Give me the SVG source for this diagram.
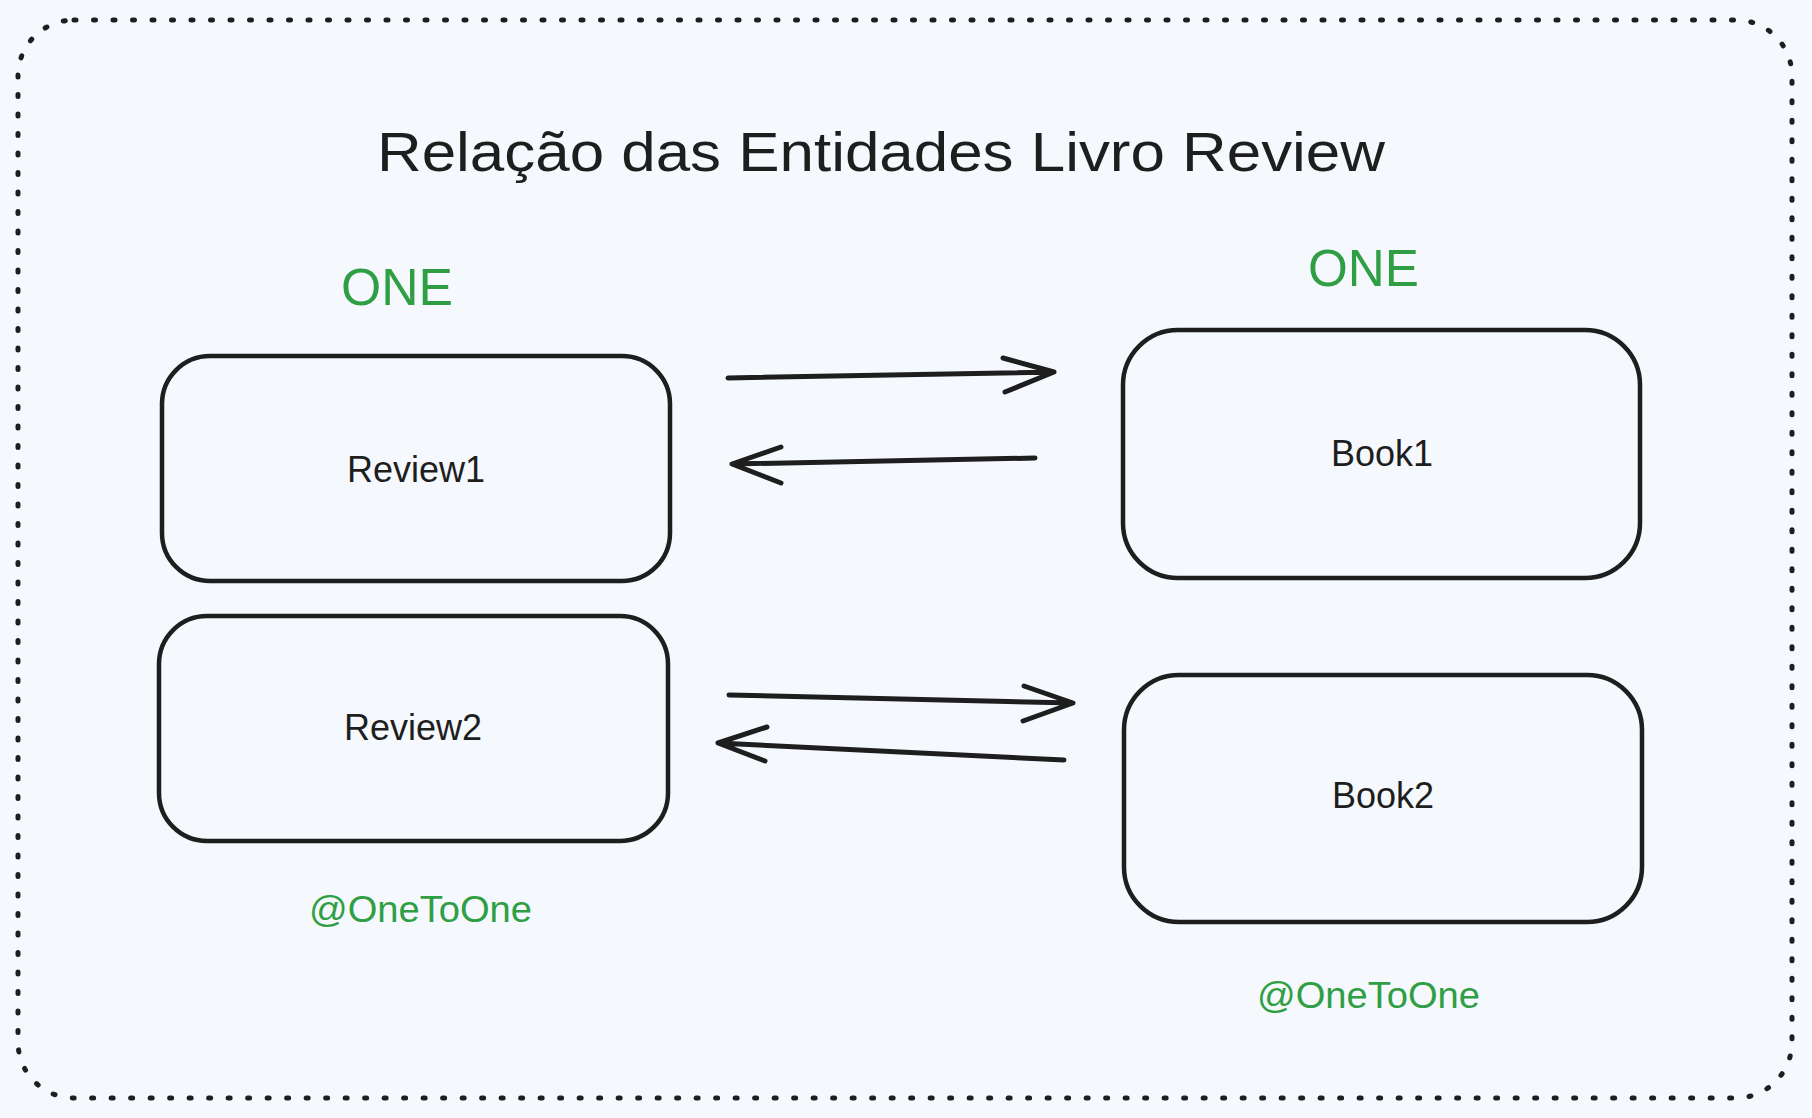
<svg xmlns="http://www.w3.org/2000/svg" width="1812" height="1118" viewBox="0 0 1812 1118">
  <style>
    .bg { fill: #f5f9fd; }
    .frame { fill: none; stroke: #1e1e1e; stroke-width: 5; stroke-linecap: round; stroke-dasharray: 2 17.5; }
    .box { fill: none; stroke: #1e1e1e; stroke-width: 4.5; }
    .conn { fill: none; stroke: #1e1e1e; stroke-width: 5; stroke-linecap: round; stroke-linejoin: round; }
    .t { font-family: "Liberation Sans", Arial, sans-serif; fill: #1e1e1e; }
    .g { font-family: "Liberation Sans", Arial, sans-serif; fill: #2f9e44; }
  </style>
  <rect class="bg" x="0" y="0" width="1812" height="1118"/>
  <rect class="frame" x="18" y="20" width="1774" height="1078" rx="56" ry="56"/>

  <text id="title" class="t" x="377" y="171" font-size="56" textLength="1008" lengthAdjust="spacingAndGlyphs">Relação das Entidades Livro Review</text>

  <text id="one-left" class="g" x="341" y="305" font-size="51" textLength="112" lengthAdjust="spacingAndGlyphs">ONE</text>
  <text id="one-right" class="g" x="1308" y="286" font-size="51" textLength="111" lengthAdjust="spacingAndGlyphs">ONE</text>

  <g id="review1">
    <rect class="box" x="162" y="356" width="508" height="225" rx="48" ry="48"/>
    <text class="t" x="416" y="482" font-size="36" text-anchor="middle">Review1</text>
  </g>
  <g id="review2">
    <rect class="box" x="159" y="616" width="509" height="225" rx="48" ry="48"/>
    <text class="t" x="413" y="740" font-size="36" text-anchor="middle">Review2</text>
  </g>
  <g id="book1">
    <rect class="box" x="1123" y="330" width="517" height="248" rx="55" ry="55"/>
    <text class="t" x="1382" y="466" font-size="36" text-anchor="middle">Book1</text>
  </g>
  <g id="book2">
    <rect class="box" x="1124" y="675" width="518" height="247" rx="55" ry="55"/>
    <text class="t" x="1383" y="808" font-size="36" text-anchor="middle">Book2</text>
  </g>

  <text id="onetoone-left" class="g" x="309" y="922" font-size="37" textLength="223" lengthAdjust="spacingAndGlyphs">@OneToOne</text>
  <text id="onetoone-right" class="g" x="1257" y="1008" font-size="37" textLength="223" lengthAdjust="spacingAndGlyphs">@OneToOne</text>

  <g id="connectors">
    <path class="conn" d="M728 378 L1054 372 M1003 358 L1054 372 L1005 392"/>
    <path class="conn" d="M1035 458 L732 464 M781 447 L732 464 L781 483"/>
    <path class="conn" d="M729 695 L1073 703 M1024 686 L1073 703 L1023 721"/>
    <path class="conn" d="M1064 760 L718 743 M767 727 L718 743 L765 761"/>
  </g>
</svg>
